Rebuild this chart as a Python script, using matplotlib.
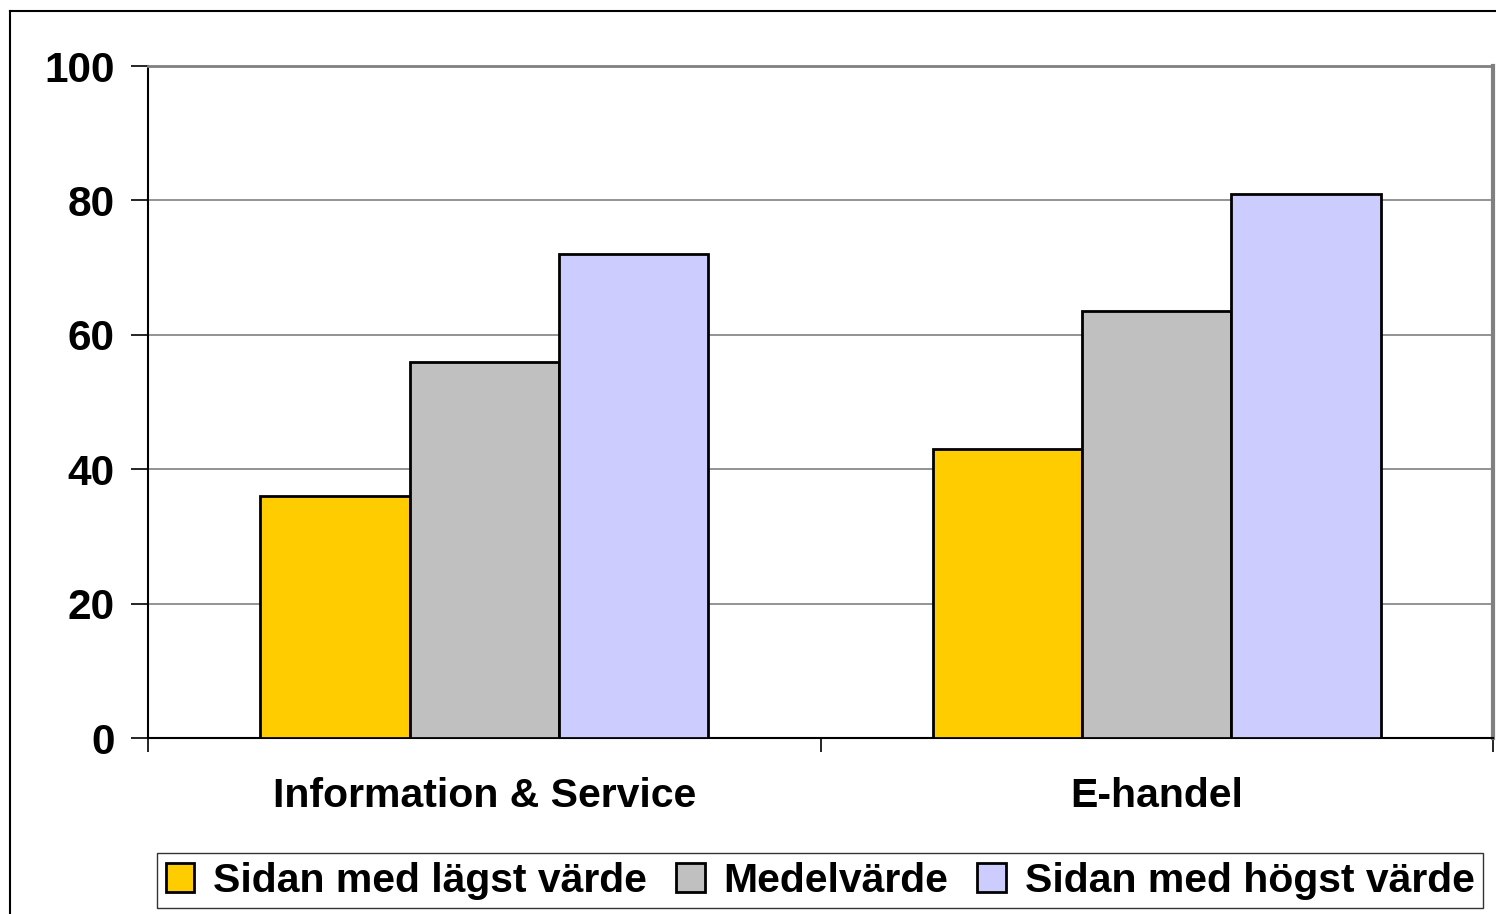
import numpy as np
import matplotlib.pyplot as plt
from matplotlib.lines import Line2D

kategorier = ["Information & Service", "E-handel"]
serier = ["Sidan med lägst värde", "Medelvärde", "Sidan med högst värde"]
lagst = [36, 43]
medel = [56, 63.5]
hogst = [72, 81]
farger = ["#FFCC00", "#C0C0C0", "#CCCCFF"]

plt.rcParams['font.family'] = ['Liberation Sans', 'DejaVu Sans']
plt.rcParams['font.weight'] = 'bold'

fig = plt.figure(figsize=(14.96, 9.14), dpi=100)
ax = fig.add_axes([148/1496, 1-738/914, (1493-148)/1496, (738-66)/914])

x = np.arange(len(kategorier))
w = 0.222
for i, (vals, namn) in enumerate(zip([lagst, medel, hogst], serier)):
    ax.bar(x + (i-1)*w, vals, w, color=farger[i], edgecolor='black', linewidth=2, label=namn, zorder=3)

ax.set_xlim(-0.5, 1.5)
ax.set_ylim(0, 100)
ax.set_yticks([0, 20, 40, 60, 80, 100])
ax.yaxis.grid(True, color='#808080', linewidth=1.2, zorder=0)
ax.set_xticks(x)
ax.set_xticklabels(kategorier)
ax.set_xticks([-0.5, 0.5, 1.5], minor=True)
ax.tick_params(axis='x', which='major', length=0, pad=28, labelsize=29.5)
ax.tick_params(axis='x', which='minor', length=10, width=1.2, direction='out')
ax.tick_params(axis='y', length=12, width=1.2, direction='out', pad=12, labelsize=30.5)
for lab in ax.get_xticklabels() + ax.get_yticklabels():
    lab.set_fontweight('bold')

ax.spines['left'].set_color('black')
ax.spines['bottom'].set_color('black')
ax.spines['left'].set_linewidth(1.5)
ax.spines['bottom'].set_linewidth(1.5)
ax.spines['top'].set_color('#808080')
ax.spines['right'].set_color('#808080')
ax.spines['top'].set_linewidth(2)
ax.spines['right'].set_linewidth(3)

leg = fig.legend(loc='center', bbox_to_anchor=(820/1496, 1-880.5/914), ncol=3,
                 prop={'size': 29.5, 'weight': 'bold'}, frameon=True, fancybox=False,
                 handlelength=0.7, handleheight=0.7, handletextpad=0.45, columnspacing=0.72,
                 borderpad=0.2, borderaxespad=0)
leg.get_frame().set_edgecolor('black')
leg.get_frame().set_linewidth(1.0)

# yttre ram
fig.add_artist(Line2D([10/1496, 10/1496], [0, 1-11/914], color='black', linewidth=1.5))
fig.add_artist(Line2D([10/1496, 1], [1-11/914, 1-11/914], color='black', linewidth=1.5))

fig.savefig("out.png", dpi=100)
